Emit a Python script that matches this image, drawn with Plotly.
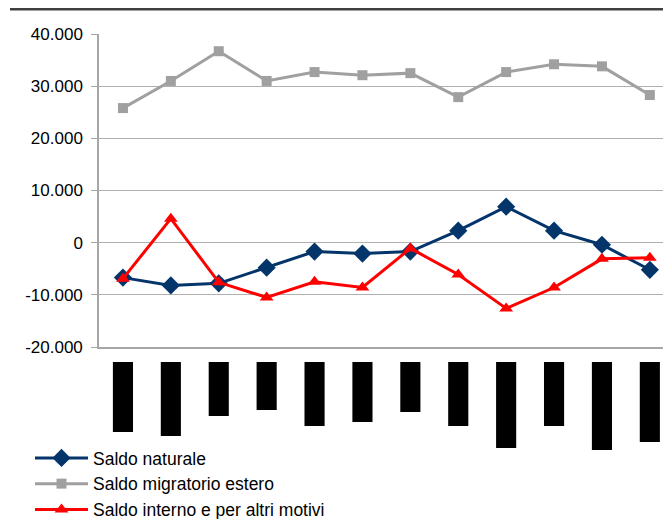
import plotly.graph_objects as go

OFF = 8  # page body offset in the browser
W, H = 671 - 2 * OFF, 527 - 2 * OFF   # keep page inside the window (no scrollbars)

categories = ["2002", "2003", "2004", "2005", "2006", "2007",
              "2008", "2009", "2010", "2011", "2012", "2013"]

saldo_naturale = [-6700, -8200, -7800, -4800, -1700, -2100,
                  -1700, 2300, 6900, 2300, -400, -5200]
saldo_migratorio_estero = [25800, 31000, 36700, 31000, 32700, 32100,
                           32500, 27900, 32700, 34200, 33800, 28300]
saldo_interno = [-6900, 4600, -7600, -10500, -7500, -8600,
                 -1100, -6100, -12600, -8600, -3100, -2900]

# redacted category label boxes (length of each black box)
label_box_lengths = [70, 74, 54, 48, 64, 60, 50, 64, 86, 64, 88, 80]

y_tickvals = [-20000, -10000, 0, 10000, 20000, 30000, 40000]
y_ticktext = ["-20.000", "-10.000", "0", "10.000", "20.000", "30.000", "40.000"]

FONT = "Liberation Sans, Arial, sans-serif"

L = 99 - OFF          # left margin in paper px
PW = W - L            # plot width in px
CAT_W = 47.9          # category spacing in px

def py(screen_y):
    return 1 - (screen_y - OFF) / H

def px(screen_x):
    return (screen_x - OFF - L) / PW

x_range = [-0.5, -0.5 + PW / CAT_W]

fig = go.Figure()

fig.add_trace(go.Scatter(
    x=categories, y=saldo_naturale, name="Saldo naturale",
    mode="lines+markers",
    line=dict(color="#04356A", width=3),
    marker=dict(symbol="diamond", size=14, color="#04356A"),
))
fig.add_trace(go.Scatter(
    x=categories, y=saldo_migratorio_estero, name="Saldo migratorio estero",
    mode="lines+markers",
    line=dict(color="#A0A0A0", width=3),
    marker=dict(symbol="square", size=10, color="#A0A0A0"),
))
fig.add_trace(go.Scatter(
    x=categories, y=saldo_interno, name="Saldo interno e per altri motivi",
    mode="lines+markers",
    line=dict(color="#FF0000", width=3),
    marker=dict(symbol="triangle-up", size=12, color="#FF0000"),
))
fig.add_trace(go.Bar(
    x=categories, y=label_box_lengths, xaxis="x2", yaxis="y2",
    marker=dict(color="#000000", line=dict(width=0)),
    width=0.42, showlegend=False, hoverinfo="skip",
))

fig.update_layout(
    width=W, height=H,
    margin=dict(l=L, r=0, t=0, b=0, autoexpand=False),
    paper_bgcolor="white", plot_bgcolor="white",
    font=dict(family=FONT, color="#000000"),
    showlegend=True,
    legend=dict(
        x=px(30), xanchor="left",
        y=py(440), yanchor="top",
        font=dict(family=FONT, size=17.5, color="#000000"),
        bgcolor="rgba(0,0,0,0)", itemwidth=53,
        tracegroupgap=0,
    ),
    xaxis=dict(
        domain=[0, 1], range=x_range,
        showticklabels=False, ticks="", showgrid=False,
        showline=True, linecolor="#A6A6A6", linewidth=1.5,
        zeroline=False, fixedrange=True, type="category",
        automargin=False,
    ),
    yaxis=dict(
        domain=[py(347), py(34)], range=[-20000, 40000],
        tickvals=y_tickvals, ticktext=y_ticktext,
        ticks="outside", ticklen=6, tickcolor="#A6A6A6", tickwidth=1.2,
        ticklabelstandoff=5,
        showgrid=True, gridcolor="#B0B0B0", gridwidth=1,
        showline=True, linecolor="#A6A6A6", linewidth=1.5,
        zeroline=False,
        automargin=False,
        tickfont=dict(family=FONT, size=17, color="#000000"),
    ),
    xaxis2=dict(
        domain=[0, 1], range=x_range, anchor="y2",
        visible=False, type="category",
    ),
    yaxis2=dict(
        domain=[py(462), py(362)], range=[100, 0],
        visible=False, anchor="x2",
    ),
    shapes=[dict(
        type="line", xref="paper", yref="paper",
        x0=px(10), x1=1.02, y0=py(9.3), y1=py(9.3),
        line=dict(color="#404040", width=2.6),
    )],
)

fig.write_html("out.html")
